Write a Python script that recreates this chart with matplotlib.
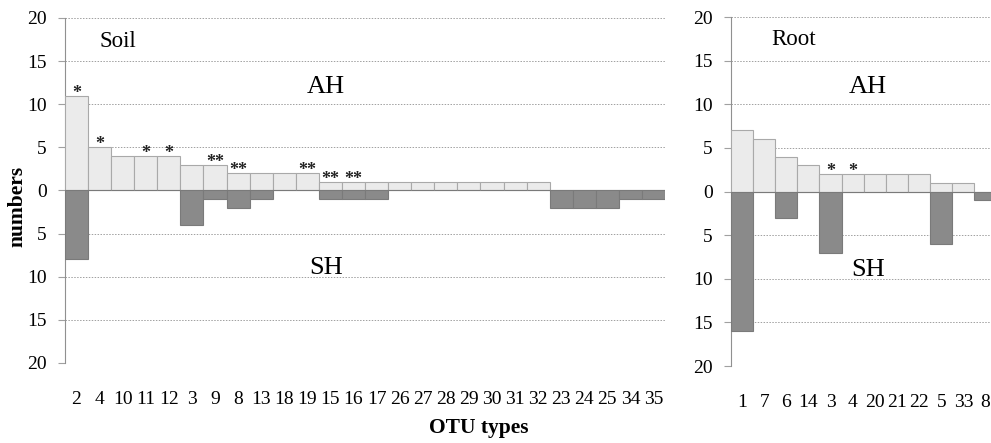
import numpy as np
import matplotlib.pyplot as plt

plt.rcParams['font.family'] = ['Liberation Serif', 'DejaVu Serif']

# OTU counts per habitat (AH above the axis, SH below)
soil_otus = ['2', '4', '10', '11', '12', '3', '9', '8', '13', '18', '19', '15', '16',
             '17', '26', '27', '28', '29', '30', '31', '32', '23', '24', '25', '34', '35']
soil_ah = [11, 5, 4, 4, 4, 3, 3, 2, 2, 2, 2, 1, 1, 1, 1, 1, 1, 1, 1, 1, 1, 0, 0, 0, 0, 0]
soil_sh = [8, 0, 0, 0, 0, 4, 1, 2, 1, 0, 0, 1, 1, 1, 0, 0, 0, 0, 0, 0, 0, 2, 2, 2, 1, 1]
soil_sig = ['*', '*', '', '*', '*', '', '**', '**', '', '', '**', '**', '**',
            '', '', '', '', '', '', '', '', '', '', '', '', '']

root_otus = ['1', '7', '6', '14', '3', '4', '20', '21', '22', '5', '33', '8']
root_ah = [7, 6, 4, 3, 2, 2, 2, 2, 2, 1, 1, 0]
root_sh = [16, 0, 3, 0, 7, 0, 0, 0, 0, 6, 0, 1]
root_sig = ['', '', '', '', '*', '*', '', '', '', '', '', '']

yticks = [-20, -15, -10, -5, 0, 5, 10, 15, 20]

LIGHT = '#ebebeb'
DARK = '#8a8a8a'


def draw_panel(ax, otus, ah, sh, sig, name, name_xy, ah_x):
    x = np.arange(len(otus))
    ax.bar(x, ah, width=1.0, color=LIGHT, edgecolor='#a9a9a9', linewidth=0.8, zorder=3)
    ax.bar(x, -np.array(sh), width=1.0, color=DARK, edgecolor='#7a7a7a', linewidth=0.8, zorder=3)
    # significance stars just above the AH bars
    for xi, v, s in zip(x, ah, sig):
        if s:
            ax.text(xi, v - 0.7, s, ha='center', va='bottom', fontsize=13,
                    fontweight='bold', color='#222222', zorder=4)
    ax.set_ylim(-20, 20)
    ax.set_yticks(yticks)
    ax.set_yticklabels([str(abs(t)) for t in yticks])
    ax.set_xticks(x)
    ax.set_xticklabels(otus)
    ax.grid(axis='y', linestyle=(0, (1.5, 1.5)), color='#a0a0a0', linewidth=0.7, zorder=0)
    for side in ['top', 'right', 'bottom']:
        ax.spines[side].set_visible(False)
    ax.spines['left'].set_color('#909090')
    ax.tick_params(axis='y', length=5, color='#a0a0a0', pad=8, labelsize=14)
    ax.tick_params(axis='x', length=0, pad=20, labelsize=14)
    ax.text(name_xy[0], name_xy[1], name, fontsize=16.5, ha='left', va='center')
    ax.text(ah_x, 12.0, 'AH', fontsize=19, ha='center', va='center')
    ax.text(ah_x, -9.0, 'SH', fontsize=19, ha='center', va='center')


fig = plt.figure(figsize=(9.91, 4.43), dpi=100)

ax1 = fig.add_axes([0.0656, 0.1806, 0.6055, 0.7788])
ax1.set_xlim(-0.5, len(soil_otus) - 0.5)
draw_panel(ax1, soil_otus, soil_ah, soil_sh, soil_sig, 'Soil', (1.0, 17.3), 10.8)
ax1.set_xlabel('OTU types', fontsize=15.5, fontweight='bold')
ax1.xaxis.set_label_coords(0.69, -0.16)
fig.text(0.018, 0.535, 'numbers', rotation=90, fontsize=15.5, fontweight='bold',
         ha='center', va='center')

ax2 = fig.add_axes([0.7376, 0.1738, 0.2680, 0.7878])
ax2.set_xlim(-0.5, len(root_otus) - 0.5)
draw_panel(ax2, root_otus, root_ah, root_sh, root_sig, 'Root', (1.3, 17.4), 5.7)

fig.savefig('out.png', dpi=100)
